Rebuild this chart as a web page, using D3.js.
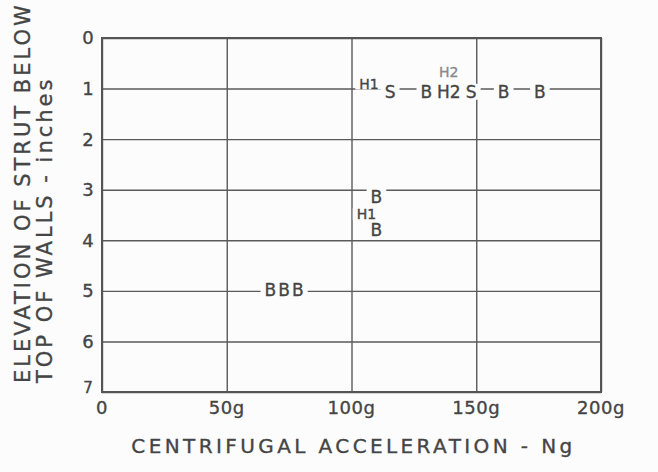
<!DOCTYPE html>
<html>
<head>
<meta charset="utf-8">
<script src="https://cdn.jsdelivr.net/npm/d3@7"></script>
<style>
  html, body { margin: 0; padding: 0; background: #fcfcfc; }
  svg { display: block; }
</style>
</head>
<body>
<div id="chart"></div>
<script>
// axis ticks
const xTicks = [0, 50, 100, 150, 200]
const xTickLabels = ["0", "50g", "100g", "150g", "200g"]
const yTicks = [0, 1, 2, 3, 4, 5, 6, 7]

// plotted letters: test code, centrifugal acceleration (g), strut elevation (in)
const markText = ["H1", "S", "B", "H2", "H2", "S", "B", "B", "B", "H1", "B", "B", "B", "B"]
const markAccel = [107, 115.5, 130, 139, 139, 148, 161, 175.5, 110, 106, 110, 67.5, 73, 78.5]
const markElev = [0.9, 1.06, 1.06, 0.68, 1.06, 1.06, 1.06, 1.06, 3.14, 3.48, 3.8, 4.98, 4.98, 4.98]

const width = 658
const height = 472
const margin = { top: 38, right: 57, bottom: 80, left: 102 }
const ink = "#454545"
const paper = "#fcfcfc"
const font = "'DejaVu Sans', sans-serif"

const x = d3.scaleLinear().domain([0, 200]).range([margin.left, width - margin.right])
const y = d3.scaleLinear().domain([0, 7]).range([margin.top, height - margin.bottom])

const svg = d3.select("#chart").append("svg")
  .attr("width", width)
  .attr("height", height)
  .attr("font-family", font)

svg.append("rect")
  .attr("width", width).attr("height", height)
  .attr("fill", paper)

// grid
svg.append("g")
  .attr("transform", `translate(0,${y(7)})`)
  .call(d3.axisBottom(x).tickValues(xTicks).tickSize(-(y(7) - y(0))).tickFormat(""))
  .call(g => g.select(".domain").remove())
  .call(g => g.selectAll("line").attr("stroke", "#5a5a5a").attr("stroke-width", 1.4))

svg.append("g")
  .attr("transform", `translate(${x(0)},0)`)
  .call(d3.axisLeft(y).tickValues(yTicks).tickSize(-(x(200) - x(0))).tickFormat(""))
  .call(g => g.select(".domain").remove())
  .call(g => g.selectAll("line").attr("stroke", "#5a5a5a").attr("stroke-width", 1.4))

// frame
svg.append("rect")
  .attr("x", x(0)).attr("y", y(0))
  .attr("width", x(200) - x(0)).attr("height", y(7) - y(0))
  .attr("fill", "none")
  .attr("stroke", "#555")
  .attr("stroke-width", 2)

// all lettering a touch heavier, like pen lettering
const texts = svg.append("g")
  .attr("fill", ink)
  .attr("stroke", ink)
  .attr("stroke-width", 0.35)

// tick labels
texts.append("g")
  .selectAll("text")
  .data(yTicks)
  .join("text")
    .attr("x", x(0) - 14)
    .attr("y", d => y(d))
    .attr("dy", d => d === 7 ? "0.05em" : "0.36em")
    .attr("text-anchor", "middle")
    .attr("font-size", d => d === 7 ? 15 : 18)
    .text(d => d)

texts.append("g")
  .selectAll("text")
  .data(xTicks)
  .join("text")
    .attr("x", d => x(d))
    .attr("y", y(7) + 22)
    .attr("text-anchor", "middle")
    .attr("font-size", 18)
    .attr("letter-spacing", 0.5)
    .text((d, i) => xTickLabels[i])

// axis titles
texts.append("text")
  .attr("x", (x(0) + x(200)) / 2 + 2)
  .attr("y", 453)
  .attr("text-anchor", "middle")
  .attr("font-size", 20)
  .attr("letter-spacing", 3.4)
  .text("CENTRIFUGAL ACCELERATION - Ng")

const yTitle = texts.append("g")
  .attr("transform", "translate(0,383) rotate(-90)")
  .attr("font-size", 21)
  .attr("letter-spacing", 3)

yTitle.append("text").attr("x", 0).attr("y", 30).text("ELEVATION OF STRUT BELOW")
yTitle.append("text").attr("x", 0).attr("y", 52).text("TOP OF WALLS - inches")

// letter marks: white patches go down first so they break the grid, then the letters
const markData = markText.map((t, i) => ({ t, g: markAccel[i], e: markElev[i], i }))

const patches = svg.append("g")
const marks = svg.append("g")
  .selectAll("text")
  .data(markData)
  .join("text")
    .attr("x", d => x(d.g))
    .attr("y", d => y(d.e))
    .attr("text-anchor", "middle")
    .attr("dy", "0.36em")
    .attr("font-size", d => d.t === "H1" || d.i === 3 ? 14 : 17)
    .attr("fill", d => d.i === 3 ? "#8a8a8a" : ink)
    .attr("stroke", d => d.i === 3 ? "#8a8a8a" : ink)
    .attr("stroke-width", 0.35)
    .text(d => d.t)

marks.each(function() {
  const b = this.getBBox()
  patches.append("rect")
    .attr("x", b.x - 4).attr("y", b.y + 2)
    .attr("width", b.width + 8).attr("height", b.height - 4)
    .attr("fill", paper)
})
</script>
</body>
</html>
